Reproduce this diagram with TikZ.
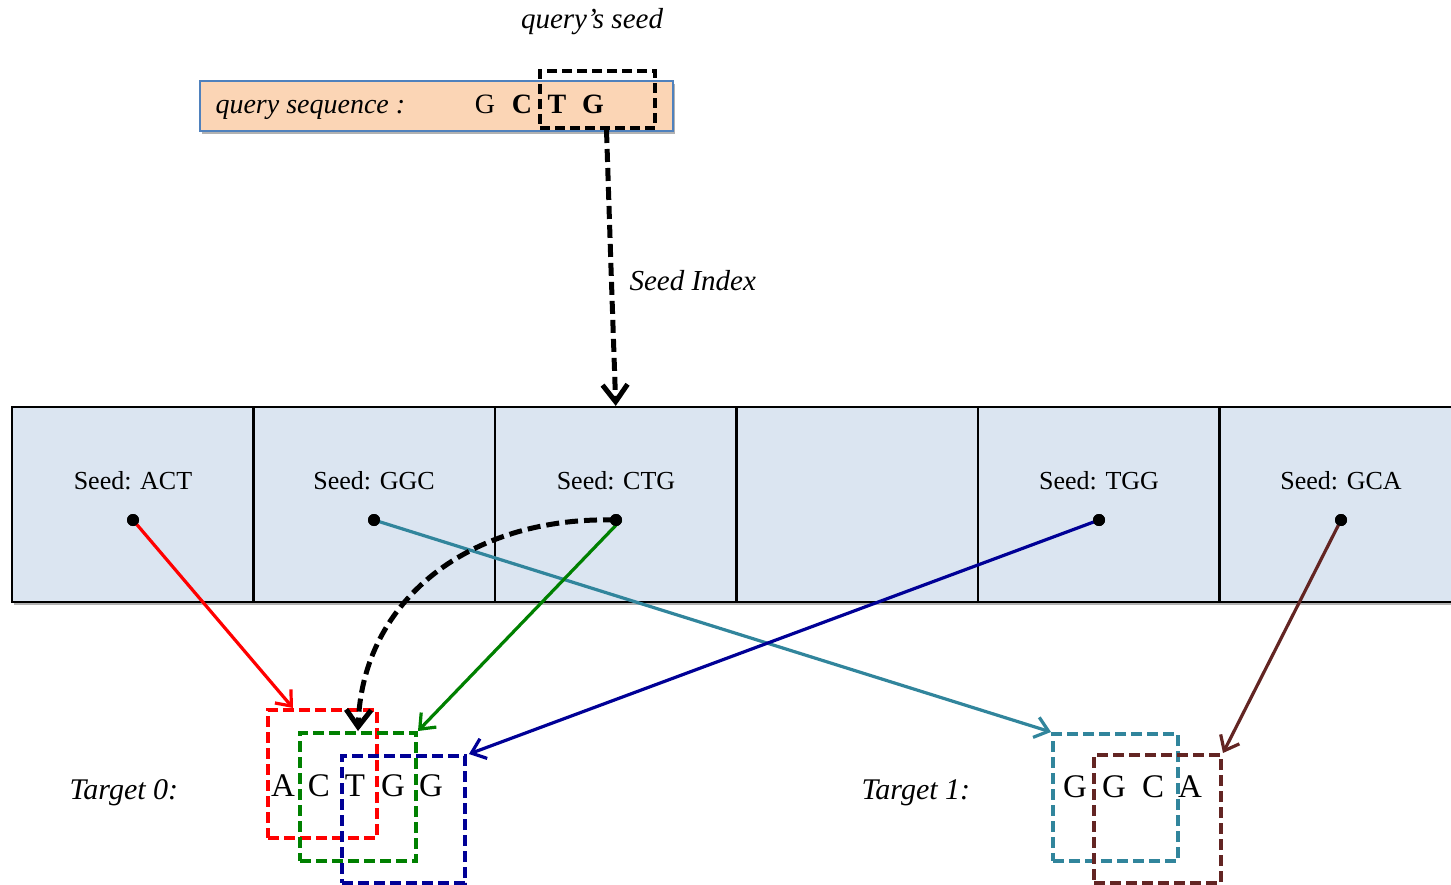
\documentclass[tikz,border=0pt]{standalone}
\usepackage{fontspec}
\setmainfont{Liberation Serif}
\usetikzlibrary{arrows.meta,shadows}
\definecolor{qfill}{RGB}{251,213,181}
\definecolor{qborder}{RGB}{79,129,189}
\definecolor{cellfill}{RGB}{219,229,241}
\definecolor{cteal}{RGB}{49,133,156}
\definecolor{cgreen}{RGB}{0,128,0}
\definecolor{cnavy}{RGB}{0,0,150}
\definecolor{cbrown}{RGB}{99,37,35}
\definecolor{cred}{RGB}{255,0,0}
\begin{document}
\begin{tikzpicture}[x=1pt,y=-1pt,
  shade/.style={drop shadow={shadow xshift=2pt,shadow yshift=-3pt,opacity=0.3,fill=black}},
  cell/.style={draw=black,line width=2.2pt,fill=cellfill,minimum width=241.5pt,minimum height=195pt,inner sep=0pt,shade},
  seedlbl/.style={anchor=base,font=\fontsize{26}{30}\selectfont},
  itlbl/.style={anchor=base west,font=\fontsize{30}{34}\selectfont\itshape},
  qlet/.style={anchor=base,font=\fontsize{28}{32}\selectfont},
  qbold/.style={anchor=base,font=\fontsize{28}{32}\selectfont\bfseries},
  tlet/.style={anchor=base,font=\fontsize{33}{36}\selectfont},
  dbox/.style={draw=#1,line width=4pt,dash pattern=on 11pt off 5pt,inner sep=0pt},
  dot/.style={circle,fill=black,minimum size=12pt,inner sep=0pt},
  arr/.style={draw=#1,line width=3.2pt,-{Straight Barb[length=13pt,width=21pt,line width=3.2pt]}},
  barr/.style={draw=black,line width=5pt,dash pattern=on 13pt off 6pt,-{Straight Barb[length=17pt,width=25pt,line width=5pt]}}
]
\useasboundingbox (0,0) rectangle (1451,885);

% query
\node[draw=qborder,line width=1.6pt,fill=qfill,minimum width=473pt,minimum height=50pt,inner sep=0pt,shade] (qbox) at (436.5,106) {};
\node[anchor=base,font=\fontsize{29}{33}\selectfont\itshape] (qseedlbl) at (592,29) {query’s seed};
\node[anchor=base west,font=\fontsize{28}{32}\selectfont\itshape] (qlbl) at (212,114) {query sequence :};
\node[qlet] (q1) at (485,114) {G};
\node[qbold] (q2) at (522,114) {C};
\node[qbold] (q3) at (557,114) {T};
\node[qbold] (q4) at (593,114) {G};
\node[dbox=black,dash pattern=on 10pt off 5pt,minimum width=115pt,minimum height=57pt] (qseed) at (597.5,99.5) {};

% index row
\node[cell] (b1) at (132.75,504.5) {};
\node[cell] (b2) at (374.25,504.5) {};
\node[cell] (b3) at (615.75,504.5) {};
\node[cell] (b4) at (857.25,504.5) {};
\node[cell] (b5) at (1098.75,504.5) {};
\node[cell] (b6) at (1340.25,504.5) {};
\node[seedlbl] (s1) at (133,489) {Seed: ACT};
\node[seedlbl] (s2) at (374,489) {Seed: GGC};
\node[seedlbl] (s3) at (616,489) {Seed: CTG};
\node[seedlbl] (s5) at (1099,489) {Seed: TGG};
\node[seedlbl] (s6) at (1341,489) {Seed: GCA};

% seed index arrow
\coordinate (bend) at (611,268);
\draw[barr] ([xshift=9pt]qseed.south) -- (bend) -- (b3.north);
\node[itlbl,font=\fontsize{29}{33}\selectfont\itshape] (silbl) at (626,291) {Seed Index};

% targets
\node[itlbl] (t0lbl) at (66,799) {Target 0:};
\node[itlbl] (t1lbl) at (858,799) {Target 1:};
\node[tlet] (a1) at (283,796) {A};
\node[tlet] (a2) at (319,796) {C};
\node[tlet] (a3) at (355,796) {T};
\node[tlet] (a4) at (393,796) {G};
\node[tlet] (a5) at (431,796) {G};
\node[tlet] (b1l) at (1075,797) {G};
\node[tlet] (b2l) at (1114,797) {G};
\node[tlet] (b3l) at (1153,797) {C};
\node[tlet] (b4l) at (1190,797) {A};

\node[dbox=cred,minimum width=109pt,minimum height=128pt] (tr) at (322.5,774) {};
\node[dbox=cgreen,minimum width=116pt,minimum height=128pt] (tg) at (358,797) {};
\node[dbox=cnavy,minimum width=123pt,minimum height=127pt] (tb) at (403.5,819.5) {};
\node[dbox=cteal,minimum width=125pt,minimum height=127pt] (tt) at (1115.5,797.5) {};
\node[dbox=cbrown,minimum width=127pt,minimum height=128pt] (tbr) at (1157.5,819) {};

% dots
\node[dot] (d1) at (133,520) {};
\node[dot] (d2) at (374,520) {};
\node[dot] (d3) at (616,520) {};
\node[dot] (d5) at (1099,520) {};
\node[dot] (d6) at (1341,520) {};

% connectors
\draw[arr=cred] (d1.center) -- ([xshift=27pt]tr.north west);
\draw[arr=cteal] (d2.center) -- (tt.north west);
\draw[arr=cgreen] ([xshift=5pt]d3.center) -- (tg.north east);
\draw[arr=cnavy] (d5.center) -- ([xshift=2pt]tb.north east);
\draw[arr=cbrown] (d6.center) -- (tbr.north east);
\draw[barr] (d3.center) .. controls (470,516) and (362,600) .. (tg.north);
\node[dot] at (d1) {};
\node[dot] at (d2) {};
\node[dot] at (d3) {};
\node[dot] at (d5) {};
\node[dot] at (d6) {};
\end{tikzpicture}
\end{document}
